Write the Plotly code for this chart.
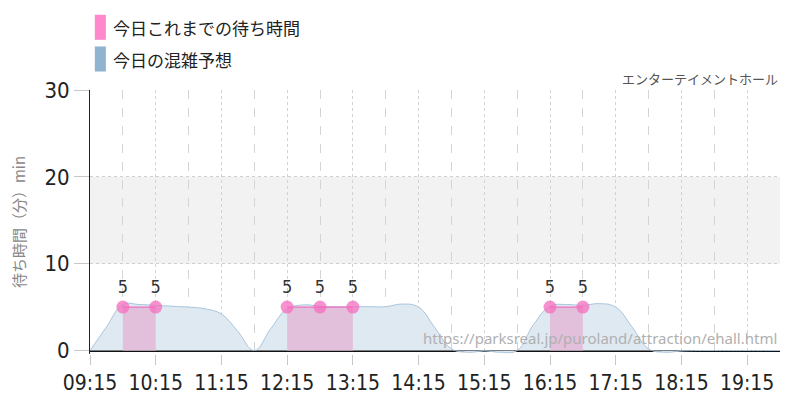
import plotly.graph_objects as go

DAY = "2024-05-01 "

# forecast (15 min steps, 09:15 - 19:45)
forecast_times = ["09:15", "09:30", "09:45", "10:00", "10:15", "10:30", "10:45", "11:00",
                  "11:15", "11:30", "11:45", "12:00", "12:15", "12:30", "12:45", "13:00",
                  "13:15", "13:30", "13:45", "14:00", "14:15", "14:30", "14:45", "15:00",
                  "15:15", "15:30", "15:45", "16:00", "16:15", "16:30", "16:45", "17:00",
                  "17:15", "17:30", "17:45", "18:00", "18:15", "18:30", "18:45", "19:00",
                  "19:15", "19:30", "19:45"]
forecast_values = [0, 2.7, 5.3, 5.3, 5.2, 5.1, 5.0, 4.8,
                   4.2, 2.2, 0, 2.5, 4.8, 5.25, 5.1, 5.05,
                   5.05, 5.05, 5.05, 5.35, 5.0, 2.6, 0.2, -0.2,
                   -0.05, -0.2, 0, 3.0, 5.1, 5.3, 5.2, 5.4,
                   5.0, 2.7, 0.2, -0.2, -0.05, 0, 0, 0,
                   0, 0, 0]

# actual waits so far (30 min steps)
actual_times = ["09:45", "10:15", "10:45", "11:15", "11:45", "12:15", "12:45", "13:15",
                "13:45", "14:15", "14:45", "15:15", "15:45", "16:15", "16:45"]
actual_values = [5, 5, None, None, None, 5, 5, 5,
                 None, None, None, None, None, 5, 5]

tick_labels = ["09:15", "10:15", "11:15", "12:15", "13:15", "14:15",
               "15:15", "16:15", "17:15", "18:15", "19:15"]
half_hours = ["09:45", "10:45", "11:45", "12:45", "13:45", "14:45",
              "15:45", "16:45", "17:45", "18:45", "19:45"]

NUM_FONT = "DejaVu Sans Condensed, Roboto, sans-serif"
JP_FONT = "Noto Sans CJK JP, sans-serif"

fig = go.Figure()

fig.add_trace(go.Scatter(
    x=[DAY + t for t in forecast_times], y=forecast_values,
    mode="lines", line=dict(color="#a9c5dc", width=1, shape="spline", smoothing=1.2),
    fill="tozeroy", fillcolor="#dfe9f2", hoverinfo="skip", showlegend=False))

# split the actual series into unbroken runs so each fill stays separate
segments = []
current = []
for t, v in zip(actual_times, actual_values):
    if v is None:
        if current:
            segments.append(current)
        current = []
    else:
        current.append((t, v))
if current:
    segments.append(current)

for seg in segments:
    fig.add_trace(go.Scatter(
        x=[DAY + t for t, v in seg], y=[v for t, v in seg],
        mode="lines+markers+text",
        line=dict(color="#ee72c2", width=1.2),
        fill="tozeroy", fillcolor="#e2c0dc",
        marker=dict(size=13, color="rgba(245,110,190,0.75)"),
        text=[str(v) for t, v in seg],
        textposition="top center",
        textfont=dict(family=NUM_FONT, size=18, color="#333"),
        showlegend=False))

fig.update_xaxes(
    range=[DAY + "09:15", DAY + "19:45"],
    tickvals=[DAY + t for t in tick_labels], ticktext=tick_labels,
    tickfont=dict(family=NUM_FONT, size=21, color="#222"),
    ticks="outside", ticklen=10, tickcolor="#c8c8c8",
    showgrid=True, gridcolor="#d2d2d2", griddash="dot",
    minor=dict(tickvals=[DAY + t for t in half_hours], showgrid=True,
               gridcolor="#d4d4d4", griddash="dash", ticks=""),
    showline=False, zeroline=False, automargin=False)

fig.update_yaxes(
    range=[-0.4, 30], tickvals=[0, 10, 20, 30],
    tickfont=dict(family=NUM_FONT, size=22, color="#222"),
    ticks="outside", ticklen=15, tickcolor="#c8c8c8",
    showgrid=True, gridcolor="#cfcfcf", griddash="dot",
    zeroline=True, zerolinecolor="#111", zerolinewidth=1.5,
    showline=True, linecolor="#222", linewidth=1, automargin=False,
    title=dict(text="待ち時間（分）min", font=dict(family=JP_FONT, size=15, color="#888"),
               standoff=18))

fig.add_shape(type="rect", xref="paper", yref="y", x0=0, x1=1, y0=10, y1=20,
              fillcolor="#f2f2f2", line=dict(width=0), layer="below")

# legend boxes
fig.add_shape(type="rect", xref="paper", yref="paper", x0=0.007, x1=0.023, y0=1.19, y1=1.285,
              fillcolor="#ff88cc", line=dict(width=0))
fig.add_shape(type="rect", xref="paper", yref="paper", x0=0.007, x1=0.023, y0=1.07, y1=1.165,
              fillcolor="#90b4d0", line=dict(width=0))
fig.add_annotation(text="今日これまでの待ち時間", xref="paper", yref="paper", x=0.03, y=1.238,
                   xanchor="left", yanchor="middle", showarrow=False,
                   font=dict(family=JP_FONT, size=17, color="#222"))
fig.add_annotation(text="今日の混雑予想", xref="paper", yref="paper", x=0.03, y=1.117,
                   xanchor="left", yanchor="middle", showarrow=False,
                   font=dict(family=JP_FONT, size=17, color="#222"))

fig.add_annotation(text="エンターテイメントホール", xref="paper", yref="paper", x=1.0, y=1.045,
                   xanchor="right", yanchor="middle", showarrow=False,
                   font=dict(family=JP_FONT, size=13, color="#555"))
fig.add_annotation(text="https://parksreal.jp/puroland/attraction/ehall.html",
                   xref="paper", yref="paper", x=0.998, y=0.06,
                   xanchor="right", yanchor="middle", showarrow=False,
                   font=dict(family="Noto Sans, sans-serif", size=15, color="#b0b0b0"))

# page has an 8px body margin, so the figure is a bit smaller than the window
fig.update_layout(
    width=792, height=392,
    margin=dict(l=82, r=20, t=82, b=46),
    plot_bgcolor="white", paper_bgcolor="white",
    showlegend=False)

fig.write_html("out.html")
